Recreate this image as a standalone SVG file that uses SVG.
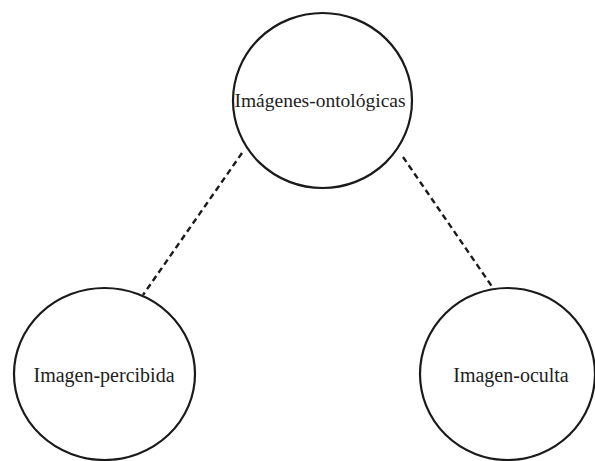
<svg xmlns="http://www.w3.org/2000/svg" width="595" height="461" viewBox="0 0 595 461">
<style>
.node{fill:#fff;stroke:#1a1a1a;stroke-width:2.2}
.lbl{font-family:"Liberation Serif","Times New Roman",Times,serif;fill:#1e1e1e;text-anchor:middle}
.conn{stroke:#1a1a1a;stroke-width:2.4;stroke-dasharray:6 4;fill:none}
</style>
<rect width="595" height="461" fill="#fff"/>
<g id="connectors">
<line class="conn" x1="242" y1="153" x2="143" y2="295"/>
<line class="conn" x1="403" y1="157" x2="493" y2="288"/>
</g>
<g id="imagenes-ontologicas">
<ellipse class="node" cx="322.5" cy="100.5" rx="89.5" ry="87.5"/>
<text class="lbl" x="320" y="107" font-size="19.5">Imágenes-ontológicas</text>
</g>
<g id="imagen-percibida">
<ellipse class="node" cx="104.5" cy="374" rx="90.5" ry="86"/>
<text class="lbl" x="104" y="382" font-size="20">Imagen-percibida</text>
</g>
<g id="imagen-oculta">
<ellipse class="node" cx="507.5" cy="374" rx="87.5" ry="86"/>
<text class="lbl" x="511" y="382" font-size="20">Imagen-oculta</text>
</g>
</svg>
